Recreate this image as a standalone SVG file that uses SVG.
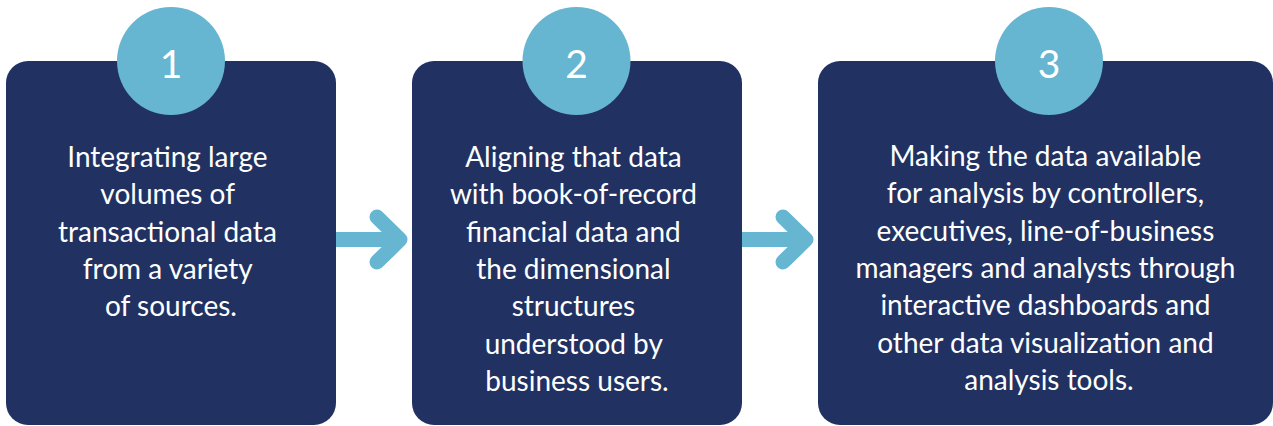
<svg xmlns="http://www.w3.org/2000/svg" width="1273" height="426" viewBox="0 0 1273 426">
<style>
.box{fill:#213262}
.badge{fill:#66b5d1}
.num{font-family:Lato,"Liberation Sans",sans-serif;font-size:39px;fill:#ffffff;text-anchor:middle}
.txt{font-family:Lato,"Liberation Sans",sans-serif;font-size:28px;fill:#ffffff;text-anchor:middle}
.arrow{fill:none;stroke:#66b5d1;stroke-width:15;stroke-linecap:round;stroke-linejoin:round}
.shaft{fill:none;stroke:#66b5d1;stroke-width:15}
</style>
<rect width="1273" height="426" fill="#ffffff"/>
<g id="connectors">
  <g id="arrow1">
    <line class="shaft" x1="336" y1="239.5" x2="402" y2="239.5"/>
    <polyline class="arrow" points="377,217 400,239.5 377,262"/>
  </g>
  <g id="arrow2">
    <line class="shaft" x1="742" y1="239.5" x2="808" y2="239.5"/>
    <polyline class="arrow" points="783,217 806,239.5 783,262"/>
  </g>
</g>
<g id="node1">
  <rect class="box" x="6" y="61" width="330" height="364" rx="22"/>
  <circle class="badge" cx="171" cy="61" r="54"/>
  <text class="num" x="171" y="78">1</text>
  <text class="txt" x="171" y="167">
    <tspan x="171">Integrating large</tspan>
    <tspan x="171" dy="37.3">volumes of</tspan>
    <tspan x="171" dy="37.3">transactional data</tspan>
    <tspan x="171" dy="37.3">from a variety</tspan>
    <tspan x="171" dy="37.3">of sources.</tspan>
  </text>
</g>
<g id="node2">
  <rect class="box" x="412" y="61" width="330" height="364" rx="22"/>
  <circle class="badge" cx="576.5" cy="61" r="54"/>
  <text class="num" x="576.5" y="78">2</text>
  <text class="txt" x="577" y="167">
    <tspan x="577">Aligning that data</tspan>
    <tspan x="577" dy="37.3">with book-of-record</tspan>
    <tspan x="577" dy="37.3">financial data and</tspan>
    <tspan x="577" dy="37.3">the dimensional</tspan>
    <tspan x="577" dy="37.3">structures</tspan>
    <tspan x="577" dy="37.3">understood by</tspan>
    <tspan x="577" dy="37.3">business users.</tspan>
  </text>
</g>
<g id="node3">
  <rect class="box" x="818" y="61" width="455" height="364" rx="22"/>
  <circle class="badge" cx="1049" cy="61" r="54"/>
  <text class="num" x="1049" y="78">3</text>
  <text class="txt" x="1049" y="166">
    <tspan x="1049">Making the data available</tspan>
    <tspan x="1049" dy="37.3">for analysis by controllers,</tspan>
    <tspan x="1049" dy="37.3">executives, line-of-business</tspan>
    <tspan x="1049" dy="37.3">managers and analysts through</tspan>
    <tspan x="1049" dy="37.3">interactive dashboards and</tspan>
    <tspan x="1049" dy="37.3">other data visualization and</tspan>
    <tspan x="1049" dy="37.3">analysis tools.</tspan>
  </text>
</g>
</svg>
